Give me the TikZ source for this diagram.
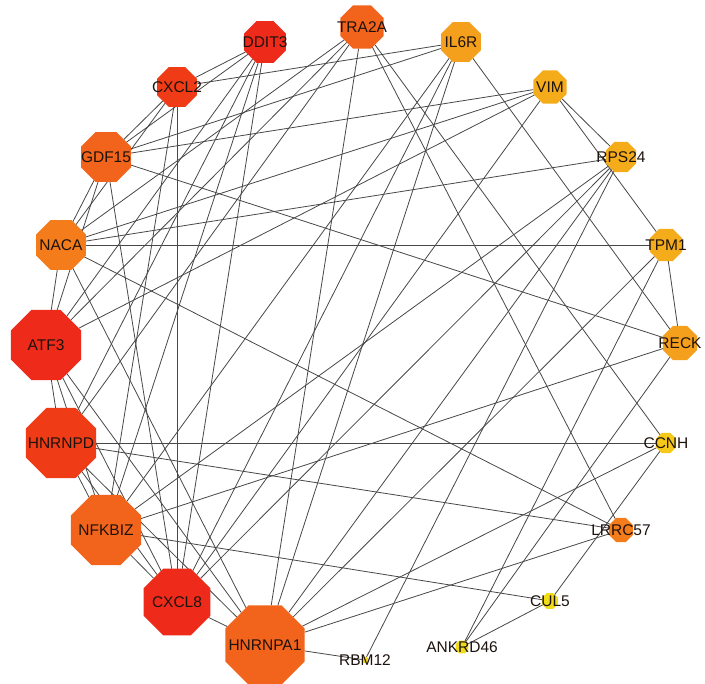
\documentclass[tikz,border=0pt]{standalone}
\usepackage{fontspec}
\setmainfont{Liberation Sans}
\usepackage{tikz}
\usetikzlibrary{shapes.geometric,backgrounds}
\definecolor{edgegray}{HTML}{484848}
\definecolor{labeldark}{HTML}{1C120E}
\definecolor{degred}{HTML}{EE2A1A}
\definecolor{degredb}{HTML}{F03C16}
\definecolor{degorange}{HTML}{F2641C}
\definecolor{degorangeb}{HTML}{F47C1A}
\definecolor{degamber}{HTML}{F5A01C}
\definecolor{degamberb}{HTML}{F5AC1A}
\definecolor{degyellow}{HTML}{F5C81A}
\definecolor{degyellowb}{HTML}{F2DC1A}
\tikzset{
  gene/.style={
    regular polygon, regular polygon sides=8,
    draw=none, inner sep=0pt, outer sep=0pt
  },
  genelabel/.style={font=\fontsize{15.5}{17}\selectfont, text=labeldark},
  edge/.style={draw=edgegray, line width=0.8pt}
}

\begin{document}
\begin{tikzpicture}[x=1pt,y=-1pt]
  \path[use as bounding box] (0,0) rectangle (705,684);

  % top and right side of the ring
  \node[gene, fill=degorange, minimum size=47pt, label={[genelabel]center:TRA2A}] (tra2a) at (362,27) {};
  \node[gene, fill=degamber, minimum size=43pt, label={[genelabel]center:IL6R}] (il6r) at (461,42) {};
  \node[gene, fill=degamberb, minimum size=36pt, label={[genelabel]center:VIM}] (vim) at (550,87) {};
  \node[gene, fill=degamberb, minimum size=33pt, label={[genelabel]center:RPS24}] (rps24) at (621,157) {};
  \node[gene, fill=degamberb, minimum size=35pt, label={[genelabel]center:TPM1}] (tpm1) at (666,245) {};
  \node[gene, fill=degamber, minimum size=37pt, label={[genelabel]center:RECK}] (reck) at (680,343) {};
  \node[gene, fill=degyellow, minimum size=22pt, label={[genelabel]center:CCNH}] (ccnh) at (666,443) {};
  \node[gene, fill=degorangeb, minimum size=26pt, label={[genelabel]center:LRRC57}] (lrrc57) at (621,530) {};
  \node[gene, fill=degyellowb, minimum size=17pt, label={[genelabel]center:CUL5}] (cul5) at (550,601) {};
  \node[gene, fill=degyellowb, minimum size=14pt, label={[genelabel]center:ANKRD46}] (ankrd46) at (462,647) {};
  \node[gene, fill=degyellowb, minimum size=7pt, label={[genelabel]center:RBM12}] (rbm12) at (365,660) {};

  % bottom and left side of the ring
  \node[gene, fill=degorange, minimum size=86pt, label={[genelabel]center:HNRNPA1}] (hnrnpa1) at (265,645) {};
  \node[gene, fill=degred, minimum size=72pt, label={[genelabel]center:CXCL8}] (cxcl8) at (177,602) {};
  \node[gene, fill=degorange, minimum size=76pt, label={[genelabel]center:NFKBIZ}] (nfkbiz) at (106,530) {};
  \node[gene, fill=degredb, minimum size=76pt, label={[genelabel]center:HNRNPD}] (hnrnpd) at (61,443) {};
  \node[gene, fill=degred, minimum size=76pt, label={[genelabel]center:ATF3}] (atf3) at (46,345) {};
  \node[gene, fill=degorangeb, minimum size=54pt, label={[genelabel]center:NACA}] (naca) at (61,245) {};
  \node[gene, fill=degorange, minimum size=54pt, label={[genelabel]center:GDF15}] (gdf15) at (106,157) {};
  \node[gene, fill=degredb, minimum size=43pt, label={[genelabel]center:CXCL2}] (cxcl2) at (177,87) {};
  \node[gene, fill=degred, minimum size=45pt, label={[genelabel]center:DDIT3}] (ddit3) at (265,42) {};

  \begin{pgfonlayer}{background}
    \fill[white] (0,0) rectangle (705,684);
    \foreach \a/\b in {
      ddit3/cxcl2, ddit3/gdf15, ddit3/atf3, ddit3/hnrnpd, ddit3/nfkbiz, ddit3/cxcl8,
      cxcl2/il6r, cxcl2/gdf15, cxcl2/naca, cxcl2/nfkbiz, cxcl2/cxcl8,
      gdf15/il6r, gdf15/vim, gdf15/reck, gdf15/naca, gdf15/cxcl8, gdf15/atf3,
      naca/tpm1, naca/lrrc57, naca/rps24, naca/vim, naca/tra2a, naca/atf3, naca/hnrnpa1,
      vim/rps24, vim/tpm1, vim/atf3, vim/cxcl8,
      tra2a/atf3, tra2a/hnrnpd, tra2a/hnrnpa1, tra2a/lrrc57, tra2a/ccnh,
      il6r/reck, il6r/nfkbiz, il6r/cxcl8, il6r/hnrnpa1,
      rps24/nfkbiz, rps24/cxcl8, rps24/hnrnpa1, rps24/rbm12,
      tpm1/reck, tpm1/hnrnpa1, tpm1/ankrd46,
      reck/nfkbiz, reck/ankrd46,
      ccnh/hnrnpd, ccnh/hnrnpa1, ccnh/cul5,
      lrrc57/hnrnpd, lrrc57/hnrnpa1,
      cul5/nfkbiz, cul5/ankrd46, rbm12/hnrnpa1,
      atf3/hnrnpd, atf3/nfkbiz, atf3/hnrnpa1, atf3/cxcl8,
      hnrnpd/nfkbiz, hnrnpd/hnrnpa1, hnrnpd/cxcl8,
      nfkbiz/cxcl8, cxcl8/hnrnpa1}
      \draw[edge] (\a) -- (\b);
  \end{pgfonlayer}
\end{tikzpicture}
\end{document}
